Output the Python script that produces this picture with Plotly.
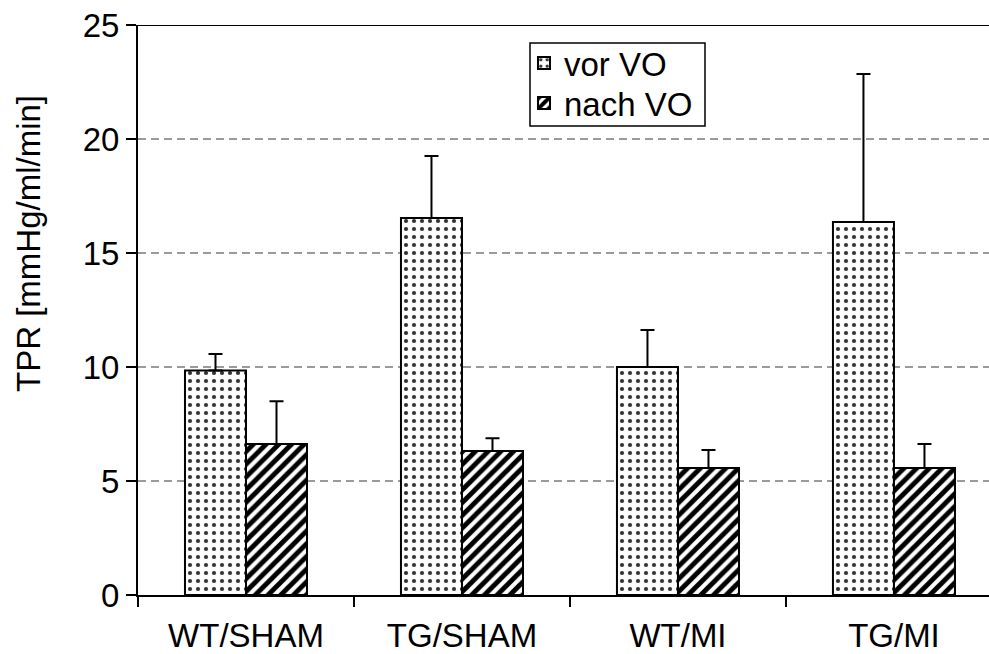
import plotly.graph_objects as go

categories = ["WT/SHAM", "TG/SHAM", "WT/MI", "TG/MI"]
vor_vo = [9.85, 16.53, 10.0, 16.36]
vor_err = [0.72, 2.72, 1.62, 6.49]
nach_vo = [6.62, 6.32, 5.57, 5.57]
nach_err = [1.88, 0.56, 0.79, 1.05]
y_ticks = [0, 5, 10, 15, 20, 25]

FONT = "Liberation Sans, Arial, sans-serif"
FS = 33

# plot area in pixels: left 138, right 989, top 25, bottom 595
def px(xp):
    return (xp - 138) / 851.0

def py(yp):
    return (595 - yp) / 570.0

fig = go.Figure()
fig.add_trace(go.Bar(
    name="vor VO", x=categories, y=vor_vo, legend="legend",
    marker=dict(color="white", line=dict(color="black", width=2),
                pattern=dict(shape=".", fgcolor="#333333", bgcolor="white", fgopacity=1,
                             size=8, solidity=0.22)),
    error_y=dict(type="data", symmetric=False, array=vor_err, arrayminus=[0]*4,
                 color="black", thickness=2, width=7),
))
fig.add_trace(go.Bar(
    name="nach VO", x=categories, y=nach_vo, legend="legend2",
    marker=dict(color="white", line=dict(color="black", width=2),
                pattern=dict(shape="/", fgcolor="black", bgcolor="white", fgopacity=1,
                             size=9, solidity=0.55)),
    error_y=dict(type="data", symmetric=False, array=nach_err, arrayminus=[0]*4,
                 color="black", thickness=2, width=7),
))

leg_common = dict(xanchor="left", yanchor="middle", borderwidth=0,
                  bgcolor="rgba(0,0,0,0)", font=dict(size=FS, family=FONT),
                  itemwidth=30)
fig.update_layout(
    width=989, height=654,
    margin=dict(l=138, r=0, t=25, b=59),
    paper_bgcolor="white", plot_bgcolor="white",
    barmode="group", bargap=0.435, bargroupgap=0,
    font=dict(family=FONT, size=FS, color="black"),
    legend=dict(x=px(524), y=py(63), **leg_common),
    legend2=dict(x=px(524), y=py(103), **leg_common),
    showlegend=True,
)
fig.update_xaxes(
    range=[-0.5, 3.44], tickson="boundaries", ticks="outside", ticklen=10,
    tickwidth=1.5, tickcolor="black", showline=True, linecolor="black", linewidth=2,
    showgrid=False, tickfont=dict(size=FS, family=FONT), ticklabelstandoff=10,
)
fig.update_yaxes(
    range=[0, 25], tickvals=y_ticks, ticks="outside", ticklen=10, tickwidth=1.5,
    tickcolor="black", showline=True, linecolor="black", linewidth=2,
    showgrid=True, gridcolor="#9a9a9a", griddash="8px,5px", gridwidth=1.5,
    zeroline=False, tickfont=dict(size=FS, family=FONT),
)
fig.add_shape(type="line", xref="paper", yref="y", x0=0, x1=1, y0=25, y1=25,
              line=dict(color="black", width=2))
fig.add_shape(type="rect", xref="paper", yref="paper",
              x0=px(530), x1=px(705), y0=py(126), y1=py(43),
              line=dict(color="black", width=1.5), fillcolor="white", layer="above")
fig.add_annotation(text="TPR [mmHg/ml/min]", xref="paper", yref="paper",
                   x=px(29), y=py(244), xanchor="center", yanchor="middle",
                   textangle=-90, showarrow=False, font=dict(size=FS, family=FONT))

fig.write_html("out.html")
